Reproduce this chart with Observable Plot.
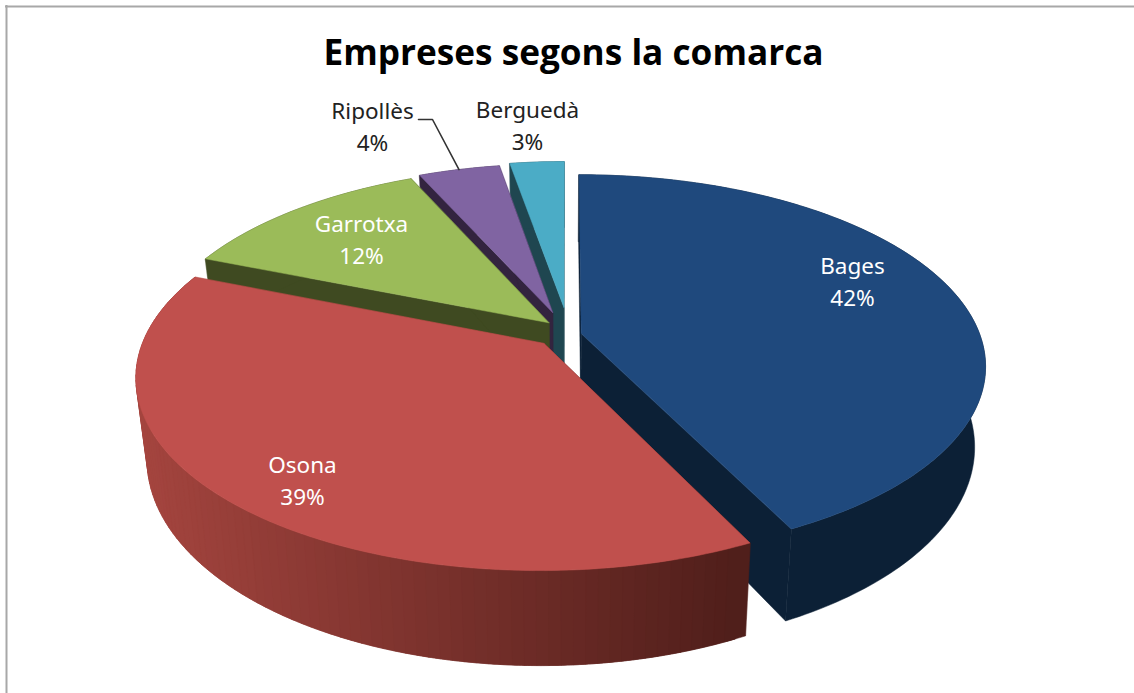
<!DOCTYPE html>
<html>
<head>
<meta charset="utf-8">
<style>html,body{margin:0;padding:0;background:#fff;overflow:hidden}svg{display:block}</style>
<script src="https://cdn.jsdelivr.net/npm/d3@7"></script>
<script src="https://cdn.jsdelivr.net/npm/@observablehq/plot@0.6"></script>
</head>
<body>
<div id="chart"></div>
<script>
const titleText = "Empreses segons la comarca";
const comarques = ["Bages", "Osona", "Garrotxa", "Ripollès", "Berguedà"];
const percentLabels = ["42%", "39%", "12%", "4%", "3%"];
const shares = [42.7, 38.4, 12.2, 4.0, 2.7];

// styling and layout, separate from the data
const topColors = ["#1f497d", "#c0504d", "#9bbb59", "#8064a2", "#4bacc6"];
const wallLeft = ["#0c2036", "#a5453f", "#3f4a21", "#33243f", "#1f4650"];
const wallRight = ["#0c2036", "#4f1e1a", "#3f4a21", "#33243f", "#1f4650"];
const explodeU = [0.0395, -0.053, -0.042, -0.033, -0.004];
const explodeV = [0.027, -0.027, 0.085, 0.142, 0.17];
const radius = [1, 1, 1, 0.965, 0.955];
const labelX = [852, 302, 361, 372, 527];
const labelY = [279, 478, 237, 124, 123];
const labelColor = ["#fff", "#fff", "#fff", "#222", "#222"];
const paintOrder = [0, 4, 3, 2, 1];

// perspective view of the pie's top and bottom planes
const X0 = 565, Y0 = 338, A = 400, B = 187, K = 0.168, SHRINK = 0.974, DEPTH = 78.6;
const topAt = (u, v) => { const w = 1 + K * v; return [X0 + A * u / w, Y0 - B * v / w]; };
const botAt = (u, v) => { const [x, y] = topAt(u, v); return [X0 + (x - X0) * SHRINK, y + DEPTH / (1 + K * v)]; };

const total = d3.sum(shares);
let cum = 0;
const slices = shares.map((s, i) => {
  const a0 = cum / total * 360; cum += s; const a1 = cum / total * 360;
  return {i, a0, a1};
});

const xMin = 135, xMax = 754;
const wallColor = (i, x) => {
  const t = Math.max(0, Math.min(1, (x - xMin) / (xMax - xMin)));
  return d3.rgb(d3.interpolateRgb(wallLeft[i], wallRight[i])(t)).toString();
};

const rows = [];
const addPoly = (id, pts, fill) => pts.forEach(([x, y]) => rows.push({id, x, y, fill}));
for (const pi of paintOrder) {
  const {i, a0, a1} = slices[pi];
  const du = explodeU[i], dv = explodeV[i], r = radius[i];
  const rim = a => { const t = a * Math.PI / 180; return [du + r * Math.sin(t), dv + r * Math.cos(t)]; };
  const ap = [du, dv];
  // cut faces
  for (const [n, a] of [["a", a0], ["b", a1]]) {
    const p = rim(a);
    const tp = topAt(...p);
    addPoly(`${i}-cut-${n}`, [topAt(...ap), tp, botAt(...p), botAt(...ap)], wallColor(i, tp[0]));
  }
  // rim wall: a gradient wall is strips, each running under the next so no seams show
  const flat = wallLeft[i] === wallRight[i];
  const n = flat ? 1 : Math.ceil((a1 - a0) / 1.5);
  const sub = flat ? Math.ceil(a1 - a0) : 4;
  for (let k = n - 1; k >= 0; k--) {
    const end = flat ? 1 : Math.min(n, k + 2);
    const ring = d3.range(0, (end - k) * sub + 1).map(s => rim(a0 + (a1 - a0) * (k + s / sub) / n));
    const tp = topAt(...ring[0]), tq = topAt(...ring[Math.min(sub, ring.length - 1)]);
    addPoly(`${i}-wall-${k}`, [...ring.map(p => topAt(...p)), ...ring.slice().reverse().map(p => botAt(...p))],
      wallColor(i, (tp[0] + tq[0]) / 2));
  }
  // top face
  const pts = [topAt(...ap)];
  const m = Math.ceil(a1 - a0);
  for (let k = 0; k <= m; k++) pts.push(topAt(...rim(a0 + (a1 - a0) * k / m)));
  addPoly(`${i}-top`, pts, d3.rgb(topColors[i]).toString());
}

const labels = comarques.map((c, i) => ({
  text: `${c}\n${percentLabels[i]}`, x: labelX[i], y: labelY[i], color: labelColor[i]
}));

// Ripollès leader, ending on the slice's rim
const rip = slices[3];
const ripA = (rip.a0 + rip.a1) / 2 * Math.PI / 180;
const ripEnd = topAt(explodeU[3] + radius[3] * Math.sin(ripA), explodeV[3] + radius[3] * Math.cos(ripA));
const leader = [[418, 119], [432, 119], ripEnd];

const chart = Plot.plot({
  width: 1134, height: 693, margin: 0,
  x: {domain: [0, 1134], range: [0, 1134], axis: null},
  y: {domain: [0, 693], range: [0, 693], axis: null},
  style: {background: "#fff"},
  marks: [
    Plot.ruleX([6], {y1: 5, y2: 693, stroke: "#a8a8a8", strokeWidth: 2}),
    Plot.ruleY([6], {x1: 5, x2: 1134, stroke: "#a8a8a8", strokeWidth: 2}),
    Plot.line(rows, {x: "x", y: "y", z: "id", fill: "fill", stroke: "fill", strokeWidth: 0.5, curve: "linear-closed"}),
    Plot.line(leader, {x: d => d[0], y: d => d[1], stroke: "#333", strokeWidth: 1.6}),
    Plot.text(labels, {x: "x", y: "y", text: "text", fill: "color", fontSize: 22.5, lineHeight: 1.42,
      fontFamily: "Noto Sans", textAnchor: "middle"}),
    Plot.text([titleText], {x: () => 573, y: () => 53, text: d => d, fontSize: 35.2, fontWeight: 700,
      fontFamily: "Open Sans", fill: "#000", textAnchor: "middle"})
  ]
});
document.getElementById("chart").append(chart);
</script>
</body>
</html>
